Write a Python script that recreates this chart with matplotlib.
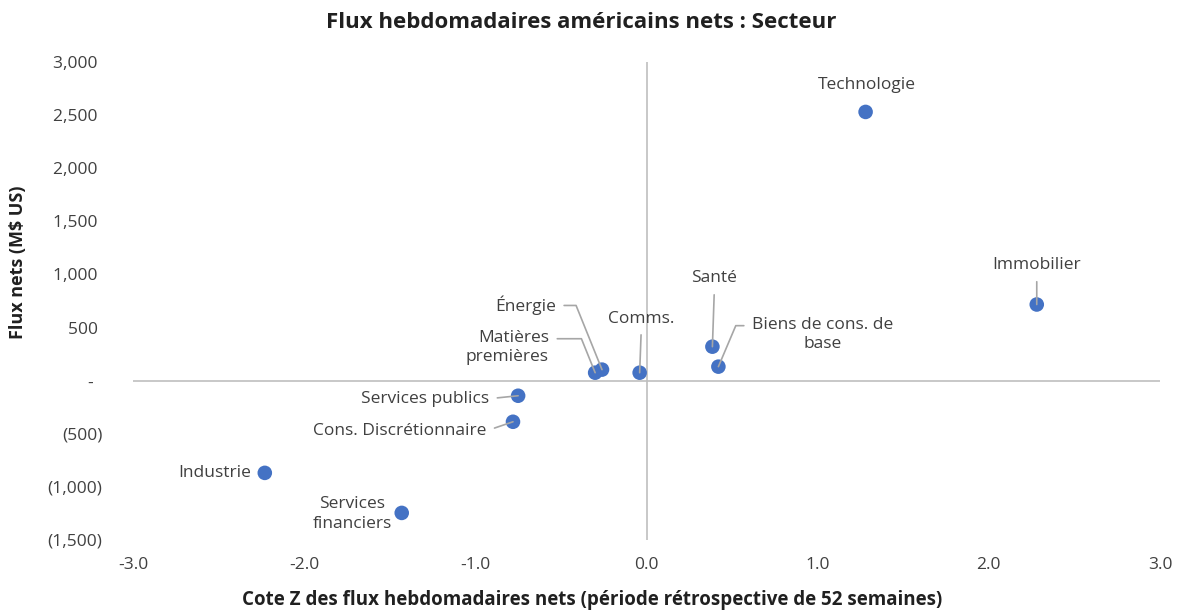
import matplotlib
matplotlib.use('Agg')
import matplotlib.pyplot as plt
from matplotlib.ticker import FuncFormatter

plt.rcParams['font.family'] = ['Open Sans', 'DejaVu Sans']

# data
sectors = ['Technologie', 'Immobilier', 'Santé', 'Biens de cons. de\nbase', 'Comms.',
           'Énergie', 'Matières\npremières', 'Services publics', 'Cons. Discrétionnaire',
           'Industrie', 'Services\nfinanciers']
zscore = [1.28, 2.28, 0.385, 0.42, -0.04, -0.26, -0.30, -0.75, -0.78, -2.23, -1.43]
flows = [2530, 717, 320, 132, 75, 104, 75, -142, -387, -868, -1245]

# label placement (data coords), alignment, leader line start (relpos) or None
label_xy = [(1.285, 2783), (2.28, 1085), (0.397, 962), (1.03, 434), (-0.03, 585),
            (-0.53, 708), (-0.57, 311), (-0.92, -170), (-0.935, -472),
            (-2.31, -868), (-1.72, -1255)]
label_ha = ['center', 'center', 'center', 'center', 'center',
            'right', 'right', 'right', 'right', 'right', 'center']
leader = [None, (0.5, 0), (0.5, 0), (0, 0.75), (0.5, 0),
          (1, 0.5), (1, 0.75), (1, 0.5), (1, 0.5), None, None]
# elbow leaders: horizontal from the label, then angled to the point
leader_conn = [None, 'arc3', 'arc3', 'angle,angleA=180,angleB=67,rad=0', 'arc3',
               'angle,angleA=0,angleB=112,rad=0', 'angle,angleA=0,angleB=112,rad=0',
               'arc3', 'arc3', None, None]

xticks = [-3, -2, -1, 0, 1, 2, 3]
yticks = [-1500, -1000, -500, 0, 500, 1000, 1500, 2000, 2500, 3000]

fig = plt.figure(figsize=(11.78, 6.10), dpi=100)
ax = fig.add_axes([133/1178, 1-540/610, (1160-133)/1178, (540-62)/610])

ax.scatter(zscore, flows, s=110, color='#4472C4', zorder=3, edgecolors='none')

for name, x, y, pos, ha, rel, conn in zip(sectors, zscore, flows, label_xy, label_ha,
                                          leader, leader_conn):
    if rel is None:
        ax.text(pos[0], pos[1], name, ha=ha, va='center', fontsize=12.5, color='#404040',
                linespacing=1.3)
    else:
        ax.annotate(name, xy=(x, y), xytext=pos, ha=ha, va='center', fontsize=12.5,
                    color='#404040', linespacing=1.3,
                    arrowprops=dict(arrowstyle='-', color='#a6a6a6', lw=1.2,
                                    relpos=rel, shrinkA=4, shrinkB=0,
                                    connectionstyle=conn))

ax.set_xlim(-3, 3)
ax.set_ylim(-1500, 3000)
ax.axhline(0, color='#bfbfbf', lw=1.2, zorder=1)
ax.axvline(0, color='#bfbfbf', lw=1.2, zorder=1)
for s in ax.spines.values():
    s.set_visible(False)

ax.set_xticks(xticks)
ax.set_yticks(yticks)
ax.xaxis.set_major_formatter(FuncFormatter(lambda v, p: f'{v:.1f}'))


def acct(v, p):
    if v == 0:
        return '-  '
    if v < 0:
        return f'({abs(v):,.0f})'
    return f'{v:,.0f} '


ax.yaxis.set_major_formatter(FuncFormatter(acct))
ax.tick_params(length=0, labelsize=12.5, labelcolor='#404040')
ax.tick_params(axis='y', pad=22)
ax.tick_params(axis='x', pad=12)

fig.text(581/1178, 1-22/610, 'Flux hebdomadaires américains nets : Secteur',
         ha='center', va='center', fontsize=16, fontweight='bold', color='#202020')
fig.text(18/1178, 1-262/610, 'Flux nets (M$ US)', rotation=90, ha='center', va='center',
         fontsize=13, fontweight='bold', color='#202020')
fig.text(592/1178, 1-600/610,
         'Cote Z des flux hebdomadaires nets (période rétrospective de 52 semaines)',
         ha='center', va='center', fontsize=13.5, fontweight='bold', color='#202020')

fig.savefig('out.png', dpi=100)
